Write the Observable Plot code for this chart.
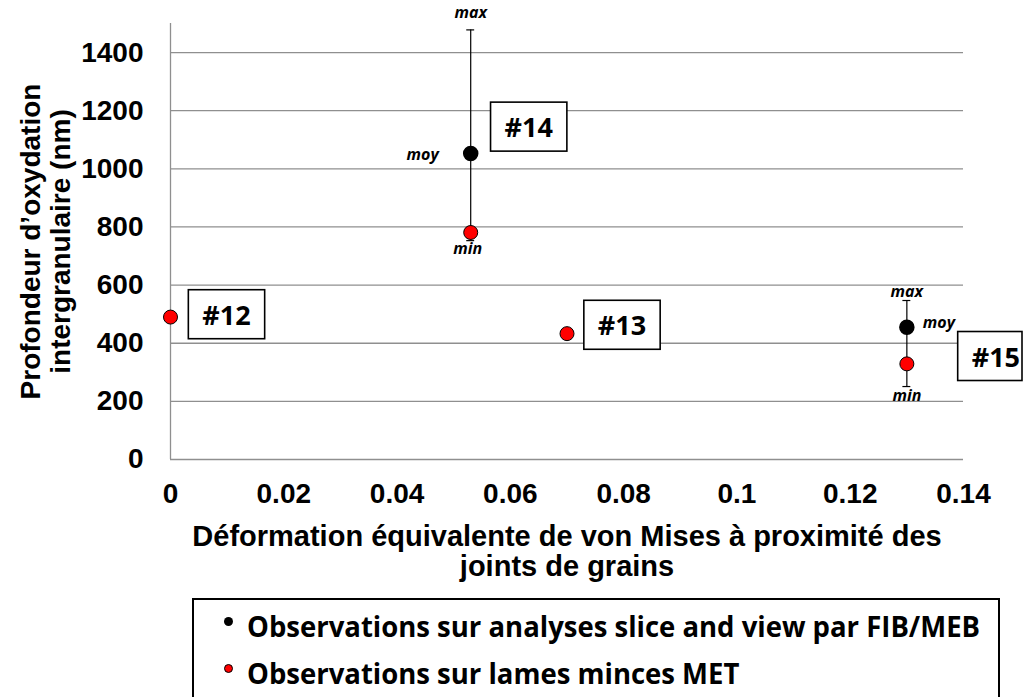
<!DOCTYPE html>
<html><head><meta charset="utf-8">
<script src="https://cdn.jsdelivr.net/npm/d3@7"></script>
<script src="https://cdn.jsdelivr.net/npm/@observablehq/plot@0.6"></script>
<style>
body{margin:0;background:#fff;width:1025px;height:697px;overflow:hidden;position:relative;}
#chart{position:absolute;left:0;top:0;}
#legend{position:absolute;left:192px;top:598px;width:808px;height:120px;border:2px solid #000;box-sizing:border-box;background:#fff;font-family:"Open Sans",sans-serif;font-weight:700;color:#000;}
.row{position:absolute;left:0;height:0;}
.bullet{position:absolute;width:9px;height:9px;border-radius:50%;box-sizing:border-box;}
.label{position:absolute;left:53px;white-space:nowrap;font-size:29px;line-height:1;transform-origin:0 50%;}
</style></head><body>
<div id="chart"></div>
<div id="legend"></div>
<script>
// ---- data ----
const samples = ["#12", "#13", "#14", "#15"];
const deformation = [0, 0.07, 0.053, 0.13];
const metDepth = [490, 433, 781, 329];          // red: lames minces MET
const fibSamples = ["#14", "#15"];
const fibDeformation = [0.053, 0.13];
const fibMean = [1053, 455];                    // black: FIB/MEB (moy)
const fibMin = [753, 251];
const fibMax = [1478, 547];
const yTicks = [0, 200, 400, 600, 800, 1000, 1200, 1400];
const xTicks = [0, 0.02, 0.04, 0.06, 0.08, 0.1, 0.12, 0.14];
const xTickLabels = ["0", "0.02", "0.04", "0.06", "0.08", "0.1", "0.12", "0.14"];
const xTitle = "Déformation équivalente de von Mises à proximité des\njoints de grains";
const yTitle = "Profondeur d’oxydation\nintergranulaire (nm)";
const legendLabels = ["Observations sur analyses slice and view par FIB/MEB", "Observations sur lames minces MET"];
const legendColors = ["black", "red"];

// ---- tables ----
const met = samples.map((s, i) => ({sample: s, x: deformation[i], y: metDepth[i]}));
const fib = fibSamples.map((s, i) => ({sample: s, x: fibDeformation[i], mean: fibMean[i], min: fibMin[i], max: fibMax[i]}));

const AX = "'Liberation Sans', Arial, sans-serif";
const CAL = "'Open Sans', sans-serif";
const capHalf = 0.0007;
const grid = "#8f8f8f";

// offsets of the sample boxes relative to the red points (pixels)
const boxOffset = {"#12": [56, -1], "#13": [55, -7], "#14": [58, -104], "#15": [89, -6]};
const boxMarks = samples.map(s => Plot.text(met.filter(d => d.sample === s), {
  x: "x", y: "y", text: "sample", dx: boxOffset[s][0], dy: boxOffset[s][1],
  fontFamily: CAL, fontWeight: "bold", fontSize: 27, fill: "black"
}));

const statStyle = {fontFamily: CAL, fontWeight: "bold", fontStyle: "italic", fontSize: 16, fill: "black"};
const f14 = fib.filter(d => d.sample === "#14");
const f15 = fib.filter(d => d.sample === "#15");

const plot = Plot.plot({
  width: 1025,
  height: 590,
  marginLeft: 170,
  marginRight: 62,
  marginTop: 23,
  marginBottom: 131,
  style: {background: "#fff", fontFamily: AX},
  x: {domain: [0, 0.14]},
  y: {domain: [0, 1500]},
  marks: [
    Plot.gridY(yTicks, {stroke: grid, strokeOpacity: 1, strokeWidth: 1.3}),
    Plot.ruleX([0], {stroke: grid, strokeWidth: 1.3}),
    Plot.axisY(yTicks, {tickSize: 0, tickPadding: 27, fontSize: 28, fontWeight: "bold", fontFamily: AX, label: null, fill: "black",
      tickFormat: d => String(d)}),
    Plot.axisX(xTicks, {tickSize: 0, tickPadding: 24, fontSize: 28, fontWeight: "bold", fontFamily: AX, label: null, fill: "black",
      tickFormat: d => xTickLabels[xTicks.indexOf(d)]}),
    Plot.text([xTitle], {frameAnchor: "bottom", textAnchor: "middle", lineAnchor: "middle", dy: 92, lineHeight: 30 / 29,
      fontSize: 29, fontWeight: "bold", fontFamily: AX, fill: "black"}),
    Plot.text([yTitle], {frameAnchor: "left", textAnchor: "middle", lineAnchor: "middle", rotate: -90, dx: -125, lineHeight: 30 / 28,
      fontSize: 28, fontWeight: "bold", fontFamily: AX, fill: "black"}),
    // error bars
    Plot.ruleX(fib, {x: "x", y1: "min", y2: "max", stroke: "black", strokeWidth: 1.2}),
    Plot.ruleY(fib, {y: "min", x1: d => d.x - capHalf, x2: d => d.x + capHalf, stroke: "black", strokeWidth: 1.2}),
    Plot.ruleY(fib, {y: "max", x1: d => d.x - capHalf, x2: d => d.x + capHalf, stroke: "black", strokeWidth: 1.2}),
    Plot.dot(fib, {x: "x", y: "mean", r: 7, fill: "black", stroke: "black"}),
    Plot.dot(met, {x: "x", y: "y", r: 7, fill: "red", stroke: "black", strokeWidth: 1}),
    // stat labels
    Plot.text(f14, {x: "x", y: "max", text: () => "max", dy: -17, ...statStyle}),
    Plot.text(f14, {x: "x", y: "mean", text: () => "moy", dx: -32, textAnchor: "end", dy: 1, ...statStyle}),
    Plot.text(f14, {x: "x", y: "min", text: () => "min", dx: -3, dy: 8, ...statStyle}),
    Plot.text(f15, {x: "x", y: "max", text: () => "max", dy: -9, ...statStyle}),
    Plot.text(f15, {x: "x", y: "mean", text: () => "moy", dx: 16, dy: -4, textAnchor: "start", ...statStyle}),
    Plot.text(f15, {x: "x", y: "min", text: () => "min", dy: 9, ...statStyle}),
    ...boxMarks
  ]
});
document.getElementById("chart").appendChild(plot);

// draw frames around the sample labels
const svgW = 1025;
const boxTexts = Array.from(plot.querySelectorAll("text")).filter(t => samples.includes(t.textContent));
boxTexts.forEach(t => {
  const b = t.getBBox();
  const padX = 14, padY = 7;
  let x0 = b.x - padX, x1 = b.x + b.width + padX;
  const tr = t.getAttribute("transform");
  const ctm = t.getCTM();
  const absRight = ctm ? ctm.e + x1 * ctm.a : x1;
  if (absRight > svgW - 3) x1 -= (absRight - (svgW - 3));
  const r = document.createElementNS("http://www.w3.org/2000/svg", "rect");
  r.setAttribute("x", x0);
  r.setAttribute("y", b.y - padY + 1);
  r.setAttribute("width", x1 - x0);
  r.setAttribute("height", b.height + 2 * padY - 2);
  r.setAttribute("fill", "white");
  r.setAttribute("stroke", "black");
  r.setAttribute("stroke-width", 1.6);
  if (tr) r.setAttribute("transform", tr);
  t.parentNode.insertBefore(r, t);
});

// legend
const legend = document.getElementById("legend");
const rowTops = [27, 74];
legendLabels.forEach((lab, i) => {
  const row = document.createElement("div");
  row.className = "row";
  row.style.top = (rowTops[i] - 2) + "px";
  const b = document.createElement("div");
  b.className = "bullet";
  b.style.left = "30px";
  b.style.top = "-8px";
  b.style.background = legendColors[i];
  b.style.border = legendColors[i] === "red" ? "1px solid #000" : "none";
  const s = document.createElement("span");
  s.className = "label";
  s.textContent = lab;
  row.appendChild(b);
  row.appendChild(s);
  legend.appendChild(row);
  const h = s.offsetHeight;
  s.style.top = (-h / 2) + "px";
});
const firstW = legend.querySelector(".label").getBoundingClientRect().width;
const scale = 733 / firstW;
legend.querySelectorAll(".label").forEach(s => s.style.transform = `scaleX(${scale})`);
</script>
</body></html>
